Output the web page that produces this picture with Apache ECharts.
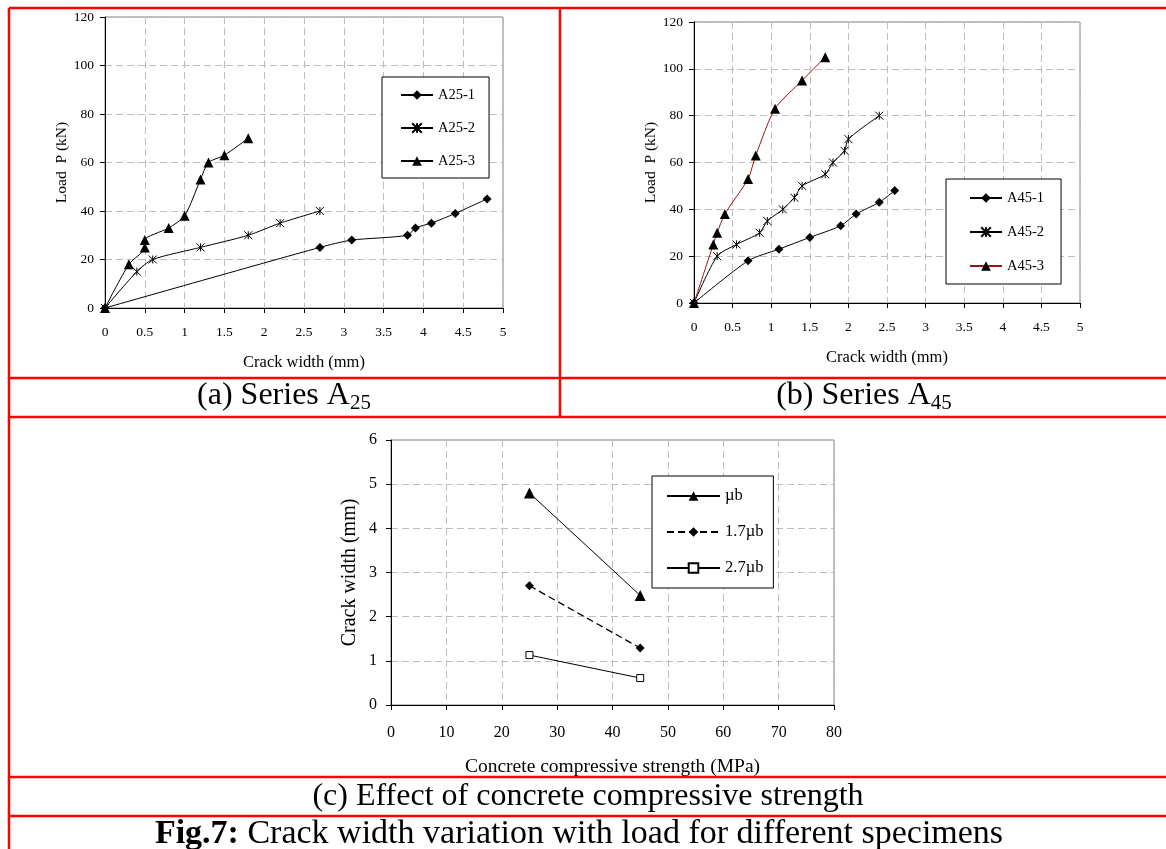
<!DOCTYPE html>
<html>
<head>
<meta charset="utf-8">
<script src="https://cdn.jsdelivr.net/npm/echarts@6/dist/echarts.min.js"></script>
<style>
  html, body { margin: 0; padding: 0; background: #fff; }
  #chart { width: 1166px; height: 849px; }
</style>
</head>
<body>
<div id="chart"></div>
<script>
// (a) Series A25 : crack width (mm) vs load (kN)
const a25_1_w = [0, 2.7, 3.1, 3.8, 3.9, 4.1, 4.4, 4.8]
const a25_1_p = [0, 25, 28, 30, 33, 35, 39, 45]
const a25_2_w = [0, 0.4, 0.6, 1.2, 1.8, 2.2, 2.7]
const a25_2_p = [0, 15, 20, 25, 30, 35, 40]
const a25_3_w = [0, 0.3, 0.5, 0.5, 0.8, 1.0, 1.2, 1.3, 1.5, 1.8]
const a25_3_p = [0, 18, 25, 28, 33, 38, 53, 60, 63, 70]

// (b) Series A45
const a45_1_w = [0, 0.7, 1.1, 1.5, 1.9, 2.1, 2.4, 2.6]
const a45_1_p = [0, 18, 23, 28, 33, 38, 43, 48]
const a45_2_w = [0, 0.3, 0.55, 0.85, 0.95, 1.15, 1.3, 1.4, 1.7, 1.8, 1.95, 2.0, 2.4]
const a45_2_p = [0, 20, 25, 30, 35, 40, 45, 50, 55, 60, 65, 70, 80]
const a45_3_w = [0, 0.25, 0.3, 0.4, 0.7, 0.8, 1.05, 1.4, 1.7]
const a45_3_p = [0, 25, 30, 38, 53, 63, 83, 95, 105]

// (c) effect of concrete compressive strength
const strength = [25, 45]
const crack_ub = [4.8, 2.48]
const crack_17ub = [2.7, 1.29]
const crack_27ub = [1.13, 0.61]

const FONT = 'Liberation Serif'
const starPath = 'path://M0,0L10,10M10,0L0,10M5,0L5,10'

function pairs(xs, ys) {
  return xs.map((x, i) => [x, ys[i]])
}

function xAxisCfg(gridIndex, max, interval, name, fs, nfs, gap, margin) {
  return {
    type: 'value', gridIndex, min: 0, max, interval,
    name, nameLocation: 'middle', nameGap: gap,
    nameTextStyle: { fontFamily: FONT, fontSize: nfs, color: '#000' },
    axisLine: { lineStyle: { color: '#000', width: 1 } },
    axisTick: { show: true, length: 5, lineStyle: { color: '#000' } },
    axisLabel: { fontFamily: FONT, fontSize: fs, color: '#000', margin },
    splitLine: { show: true, lineStyle: { color: '#bdbdbd', type: [7, 4] } }
  }
}

function yAxisCfg(gridIndex, max, interval, name, fs, nfs, gap, margin) {
  return {
    type: 'value', gridIndex, min: 0, max, interval,
    name, nameLocation: 'middle', nameGap: gap,
    nameTextStyle: { fontFamily: FONT, fontSize: nfs, color: '#000' },
    axisLine: { show: true, lineStyle: { color: '#000', width: 1 } },
    axisTick: { show: true, length: 5, lineStyle: { color: '#000' } },
    axisLabel: { fontFamily: FONT, fontSize: fs, color: '#000', margin },
    splitLine: { show: true, lineStyle: { color: '#bdbdbd', type: [7, 4] } }
  }
}

function lineSeries(name, idx, data, symbol, size, extra) {
  return Object.assign({
    name, type: 'line', xAxisIndex: idx, yAxisIndex: idx,
    data, symbol, symbolSize: size, smooth: 0.25,
    showAllSymbol: true,
    lineStyle: { color: '#000', width: 1 },
    itemStyle: { color: '#000' }
  }, extra || {})
}

function legendCfg(names, left, top, padding, gap, w, fs) {
  return {
    data: names, orient: 'vertical', left, top, padding,
    itemGap: gap, itemWidth: w, itemHeight: 12,
    backgroundColor: '#fff', borderColor: '#000', borderWidth: 1,
    textStyle: { fontFamily: FONT, fontSize: fs, color: '#000' },
    selectedMode: false
  }
}

function redLine(x1, y1, x2, y2) {
  return { type: 'line', silent: true, shape: { x1, y1, x2, y2 }, style: { stroke: '#ff0000', lineWidth: 2.5 } }
}

function caption(x, y, text, rich) {
  return {
    type: 'text', silent: true, x, y,
    style: Object.assign({ text, fontFamily: FONT, fontSize: 32, fill: '#000', align: 'center', verticalAlign: 'middle' }, rich ? { rich } : {})
  }
}

const subRich = {
  m: { fontFamily: FONT, fontSize: 32, verticalAlign: 'top', fill: '#000' },
  s: { fontFamily: FONT, fontSize: 21, verticalAlign: 'top', padding: [13, 0, 0, 0], fill: '#000' }
}

const chart = echarts.init(document.getElementById('chart'), null, { renderer: 'canvas' })

chart.setOption({
  animation: false,
  backgroundColor: '#fff',
  grid: [
    { left: 105, top: 17, width: 398, height: 291, show: true, borderColor: '#808080', borderWidth: 1 },
    { left: 694, top: 22, width: 386, height: 281, show: true, borderColor: '#808080', borderWidth: 1 },
    { left: 391, top: 440, width: 443, height: 265, show: true, borderColor: '#808080', borderWidth: 1 }
  ],
  xAxis: [
    xAxisCfg(0, 5, 0.5, 'Crack width (mm)', 13.5, 16.5, 46, 17),
    xAxisCfg(1, 5, 0.5, 'Crack width (mm)', 13.5, 16.5, 46, 17),
    xAxisCfg(2, 80, 10, 'Concrete compressive strength (MPa)', 16, 19.5, 52, 20)
  ],
  yAxis: [
    yAxisCfg(0, 120, 20, 'Load  P (kN)', 13.5, 15.5, 35, 11),
    yAxisCfg(1, 120, 20, 'Load  P (kN)', 13.5, 15.5, 33, 11),
    yAxisCfg(2, 6, 1, 'Crack width (mm)', 16, 20, 31, 14)
  ],
  legend: [
    legendCfg(['A25-1', 'A25-2', 'A25-3'], 382, 77, [10.5, 14, 9.5, 18], 18, 32, 14.5),
    legendCfg(['A45-1', 'A45-2', 'A45-3'], 946, 179, [11.5, 17, 10.5, 23], 19, 32, 14.5),
    legendCfg(['µb', '1.7µb', '2.7µb'], 652, 476, [11.5, 10, 11.5, 14], 19, 53, 16.5)
  ],
  series: [
    lineSeries('A25-1', 0, pairs(a25_1_w, a25_1_p), 'diamond', 9),
    lineSeries('A25-2', 0, pairs(a25_2_w, a25_2_p), starPath, 8,
      { itemStyle: { color: '#000', borderColor: '#000', borderWidth: 1 } }),
    lineSeries('A25-3', 0, pairs(a25_3_w, a25_3_p), 'triangle', 10),

    lineSeries('A45-1', 1, pairs(a45_1_w, a45_1_p), 'diamond', 9),
    lineSeries('A45-2', 1, pairs(a45_2_w, a45_2_p), starPath, 8,
      { itemStyle: { color: '#000', borderColor: '#000', borderWidth: 1 } }),
    lineSeries('A45-3', 1, pairs(a45_3_w, a45_3_p), 'triangle', 10,
      { lineStyle: { color: '#a01018', width: 1 } }),

    lineSeries('µb', 2, pairs(strength, crack_ub), 'triangle', 11, { smooth: false }),
    lineSeries('1.7µb', 2, pairs(strength, crack_17ub), 'diamond', 9,
      { smooth: false, lineStyle: { color: '#000', width: 1.3, type: [7, 4] } }),
    lineSeries('2.7µb', 2, pairs(strength, crack_27ub), 'rect', 7,
      { smooth: false, itemStyle: { color: '#fff', borderColor: '#000', borderWidth: 1 } })
  ],
  graphic: [
    redLine(9, 8, 1166, 8),
    redLine(9, 8, 9, 849),
    redLine(560, 8, 560, 417),
    redLine(9, 378, 1166, 378),
    redLine(9, 417, 1166, 417),
    redLine(9, 777, 1166, 777),
    redLine(9, 816, 1166, 816),
    caption(284, 397, '{m|(a) Series A}{s|25}', subRich),
    caption(864, 397, '{m|(b) Series A}{s|45}', subRich),
    caption(588, 797, '(c) Effect of concrete compressive strength'),
    {
      type: 'text', silent: true, x: 579, y: 834,
      style: {
        text: '{b|Fig.7:}{n| Crack width variation with load for different specimens}',
        align: 'center', verticalAlign: 'middle',
        rich: {
          b: { fontFamily: FONT, fontSize: 34, fontWeight: 'bold', fill: '#000' },
          n: { fontFamily: FONT, fontSize: 34, fill: '#000' }
        }
      }
    }
  ]
})
</script>
</body>
</html>
